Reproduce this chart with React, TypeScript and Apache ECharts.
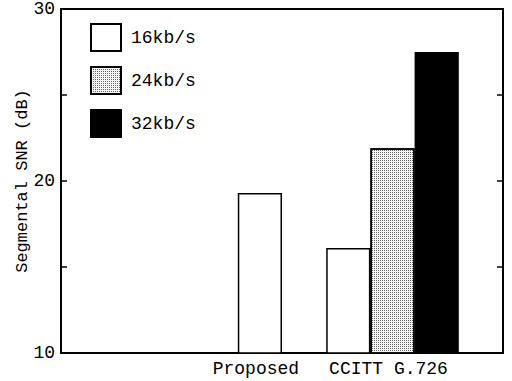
import React, { useEffect, useRef } from "react";
import * as echarts from "echarts";

const categories = ["Proposed", "CCITT G.726"];
const rates = ["16kb/s", "24kb/s", "32kb/s"];
const proposedSNR: (number | null)[] = [19.3, null, null];
const ccittSNR: (number | null)[] = [16.1, 21.9, 27.5];
const yTickLabels = [10, 20, 30];

const FONT = "'Liberation Mono', 'DejaVu Sans Mono', monospace";

// layout: 10 equal slots along the x axis
const SLOT_COUNT = 10;
const PROPOSED_SLOT = 4;
const CCITT_FIRST_SLOT = 6;
const CCITT_LABEL_SLOT = 7;

export default function App() {
  const ref = useRef<HTMLDivElement>(null);
  useEffect(() => {
    document.body.style.margin = "0";
    const chart = echarts.init(ref.current!, null, { renderer: "svg" });
    const slots: string[] = Array.from({ length: SLOT_COUNT }, () => "");
    slots[PROPOSED_SLOT] = categories[0];
    slots[CCITT_LABEL_SLOT] = categories[1];
    const xData = slots.map((_, i) => "s" + i);

    const fills = [
      { color: "#ffffff" },
      {
        color: "#f6f6f6",
        decal: {
          symbol: "rect",
          symbolSize: 1,
          dashArrayX: [1, 1],
          dashArrayY: [1, 1],
          color: "#666666",
          rotation: 0,
        },
      },
      { color: "#000000" },
    ];

    const series = rates.map((rate, r) => {
      const data: (number | string)[] = Array.from({ length: SLOT_COUNT }, () => "-");
      if (proposedSNR[r] != null) data[PROPOSED_SLOT] = proposedSNR[r] as number;
      if (ccittSNR[r] != null) data[CCITT_FIRST_SLOT + r] = ccittSNR[r] as number;
      return {
        name: rate,
        type: "bar",
        data,
        barWidth: "100%",
        barGap: "-100%",
        clip: true,
        itemStyle: { ...fills[r], borderColor: "#000", borderWidth: 1.5 },
      };
    });

    chart.setOption({
      animation: false,
      backgroundColor: "#fff",
      grid: {
        left: 61,
        right: 9,
        top: 9,
        bottom: 28,
        show: true,
        borderColor: "#000",
        borderWidth: 2,
        containLabel: false,
      },
      legend: {
        orient: "vertical",
        left: 90,
        top: 23,
        padding: 0,
        itemWidth: 30,
        itemHeight: 27,
        itemGap: 14,
        icon: "rect",
        selectedMode: false,
        data: rates,
        textStyle: { fontFamily: FONT, fontSize: 18, color: "#000", padding: [0, 0, 0, 5] },
      },
      xAxis: {
        type: "category",
        data: xData,
        axisTick: { show: false },
        axisLine: { lineStyle: { color: "#000", width: 2 } },
        axisLabel: {
          interval: 0,
          margin: 7,
          padding: [0, 8, 0, 0],
          fontFamily: FONT,
          fontSize: 18,
          color: "#000",
          formatter: (v: string) => slots[Number(v.slice(1))],
        },
      },
      yAxis: [
        {
          type: "value",
          min: 10,
          max: 30,
          interval: 5,
          name: "Segmental SNR (dB)",
          nameLocation: "middle",
          nameGap: 30,
          nameMoveOverlap: false,
          nameTextStyle: { fontFamily: FONT, fontSize: 17, color: "#000" },
          axisLine: { show: true, lineStyle: { color: "#000", width: 2 } },
          axisTick: { show: true, inside: true, length: 6, lineStyle: { color: "#000", width: 1.5 } },
          splitLine: { show: false },
          axisLabel: {
            margin: 6,
            fontFamily: FONT,
            fontSize: 18,
            color: "#000",
            formatter: (v: number) => (yTickLabels.includes(v) ? String(v) : ""),
          },
        },
        {
          type: "value",
          min: 10,
          max: 30,
          interval: 5,
          position: "right",
          axisLine: { show: true, lineStyle: { color: "#000", width: 2 } },
          axisTick: { show: true, inside: true, length: 6, lineStyle: { color: "#000", width: 1.5 } },
          splitLine: { show: false },
          axisLabel: { show: false },
        },
      ],
      series,
    });
    return () => chart.dispose();
  }, []);
  return <div ref={ref} style={{ width: 512, height: 381 }} />;
}
